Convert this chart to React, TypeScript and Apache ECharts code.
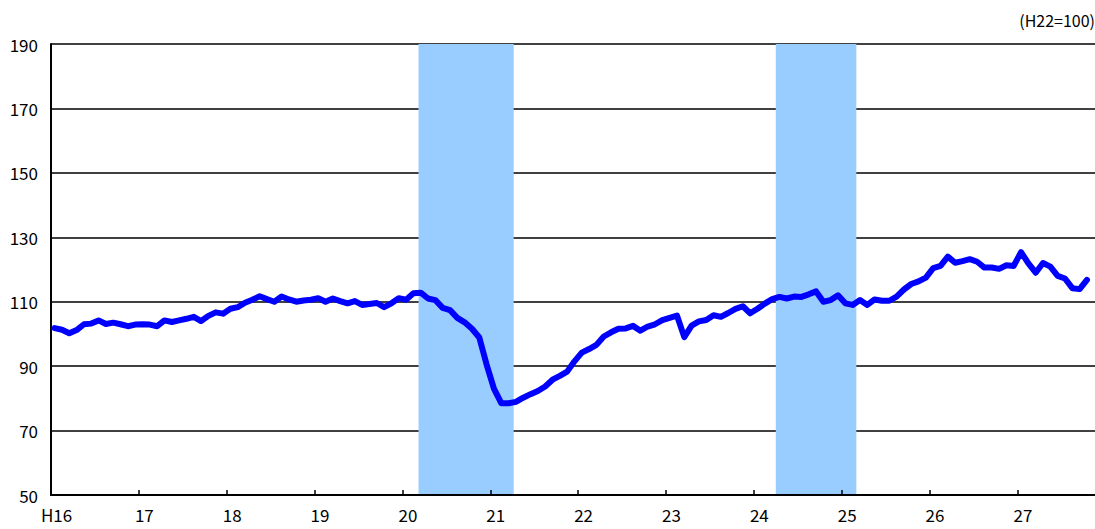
import React, { useEffect, useRef } from "react";
import * as echarts from "echarts";

// Monthly index, H16.1 (Jan 2004) .. H27.10 (Oct 2015), H22 = 100
const values: number[] = [
  // H16
  101.8, 101.3, 100.2, 101.2, 103.0, 103.2, 104.2, 103.1, 103.5, 103.0, 102.4, 102.9,
  // H17
  103.0, 102.9, 102.4, 104.2, 103.7, 104.2, 104.7, 105.3, 104.0, 105.6, 106.7, 106.3,
  // H18
  107.8, 108.3, 109.7, 110.6, 111.7, 110.8, 110.0, 111.6, 110.7, 110.0, 110.4, 110.6,
  // H19
  111.1, 110.0, 111.0, 110.2, 109.5, 110.2, 109.0, 109.3, 109.6, 108.3, 109.5, 111.1,
  // H20
  110.6, 112.6, 112.8, 111.0, 110.5, 108.1, 107.4, 105.0, 103.6, 101.6, 98.9, 90.5,
  // H21
  83.0, 78.5, 78.5, 78.9, 80.2, 81.3, 82.3, 83.7, 85.8, 87.0, 88.3, 91.5,
  // H22
  94.2, 95.3, 96.6, 99.2, 100.5, 101.6, 101.7, 102.5, 101.0, 102.3, 103.0, 104.3,
  // H23
  105.0, 105.7, 99.0, 102.6, 103.9, 104.3, 105.8, 105.3, 106.5, 107.8, 108.6, 106.4,
  // H24
  107.8, 109.4, 110.8, 111.5, 111.0, 111.6, 111.5, 112.3, 113.2, 110.0, 110.5, 112.0,
  // H25
  109.5, 109.0, 110.5, 109.0, 110.7, 110.3, 110.3, 111.6, 113.8, 115.5, 116.3, 117.5,
  // H26
  120.4, 121.1, 124.0, 122.1, 122.6, 123.2, 122.4, 120.6, 120.6, 120.2, 121.3, 121.1,
  // H27
  125.4, 121.9, 119.0, 122.0, 120.9, 118.0, 117.2, 114.2, 113.9, 116.8,
];

// x tick labels (one per year)
const yearLabels: string[] = ["H16", "17", "18", "19", "20", "21", "22", "23", "24", "25", "26", "27"];

// Shaded (recession) periods, in months since H16.1
const shadeStarts: number[] = [50.2, 99.0];
const shadeEnds: number[] = [63.2, 110.0];

// y axis ticks
const yMin = 50;
const yMax = 190;
const yStep = 20;

const unitLabel = "(H22=100)";

export default function App() {
  const ref = useRef<HTMLDivElement>(null);

  useEffect(() => {
    if (!ref.current) return;
    const chart = echarts.init(ref.current, null, { renderer: "svg" });
    const font = "'Noto Sans CJK JP', 'Noto Sans', sans-serif";

    const lineData = values.map((v, i) => [i + 0.5, v]);
    const areas = shadeStarts.map((s, k) => [{ xAxis: s }, { xAxis: shadeEnds[k] }]);

    chart.setOption({
      animation: false,
      backgroundColor: "#ffffff",
      grid: { left: 51, right: 0, top: 44, bottom: 34, containLabel: false },
      xAxis: {
        type: "value",
        z: 5,
        min: 0,
        max: 142.6,
        interval: 12,
        axisLine: { show: true, lineStyle: { color: "#000", width: 2 } },
        axisTick: { show: true, inside: true, length: 5, lineStyle: { color: "#000", width: 1.5 } },
        splitLine: { show: false },
        axisLabel: {
          showMaxLabel: false,
          color: "#000",
          fontFamily: font,
          fontSize: 17,
          margin: 11,
          padding: [0, 0, 0, 11],
          formatter: (v: number) => {
            const k = Math.round(v / 12);
            if (Math.abs(v - k * 12) > 0.01) return "";
            return yearLabels[k] ?? "";
          },
        },
      },
      yAxis: {
        type: "value",
        min: yMin,
        max: yMax,
        interval: yStep,
        axisLine: { show: true, lineStyle: { color: "#000", width: 2 } },
        axisTick: { show: false },
        splitLine: { show: true, lineStyle: { color: "#000", width: 1.5 } },
        axisLabel: { color: "#000", fontFamily: font, fontSize: 17, margin: 13 },
      },
      graphic: [
        {
          type: "text",
          right: 0,
          top: 12,
          style: { text: unitLabel, fill: "#000", font: `16px ${font}` },
        },
      ],
      series: [
        {
          type: "line",
          data: [],
          z: 1,
          silent: true,
          markArea: {
            silent: true,
            itemStyle: { color: "#99CCFF", opacity: 1 },
            data: areas,
          },
        },
        {
          type: "line",
          data: lineData,
          z: 3,
          showSymbol: false,
          symbol: "none",
          lineStyle: { color: "#0000FF", width: 6, cap: "round", join: "round" },
        },
      ],
    });
    return () => chart.dispose();
  }, []);

  return (
    <div
      ref={ref}
      style={{ position: "fixed", left: 0, top: 0, width: 1095, height: 529 }}
    />
  );
}
